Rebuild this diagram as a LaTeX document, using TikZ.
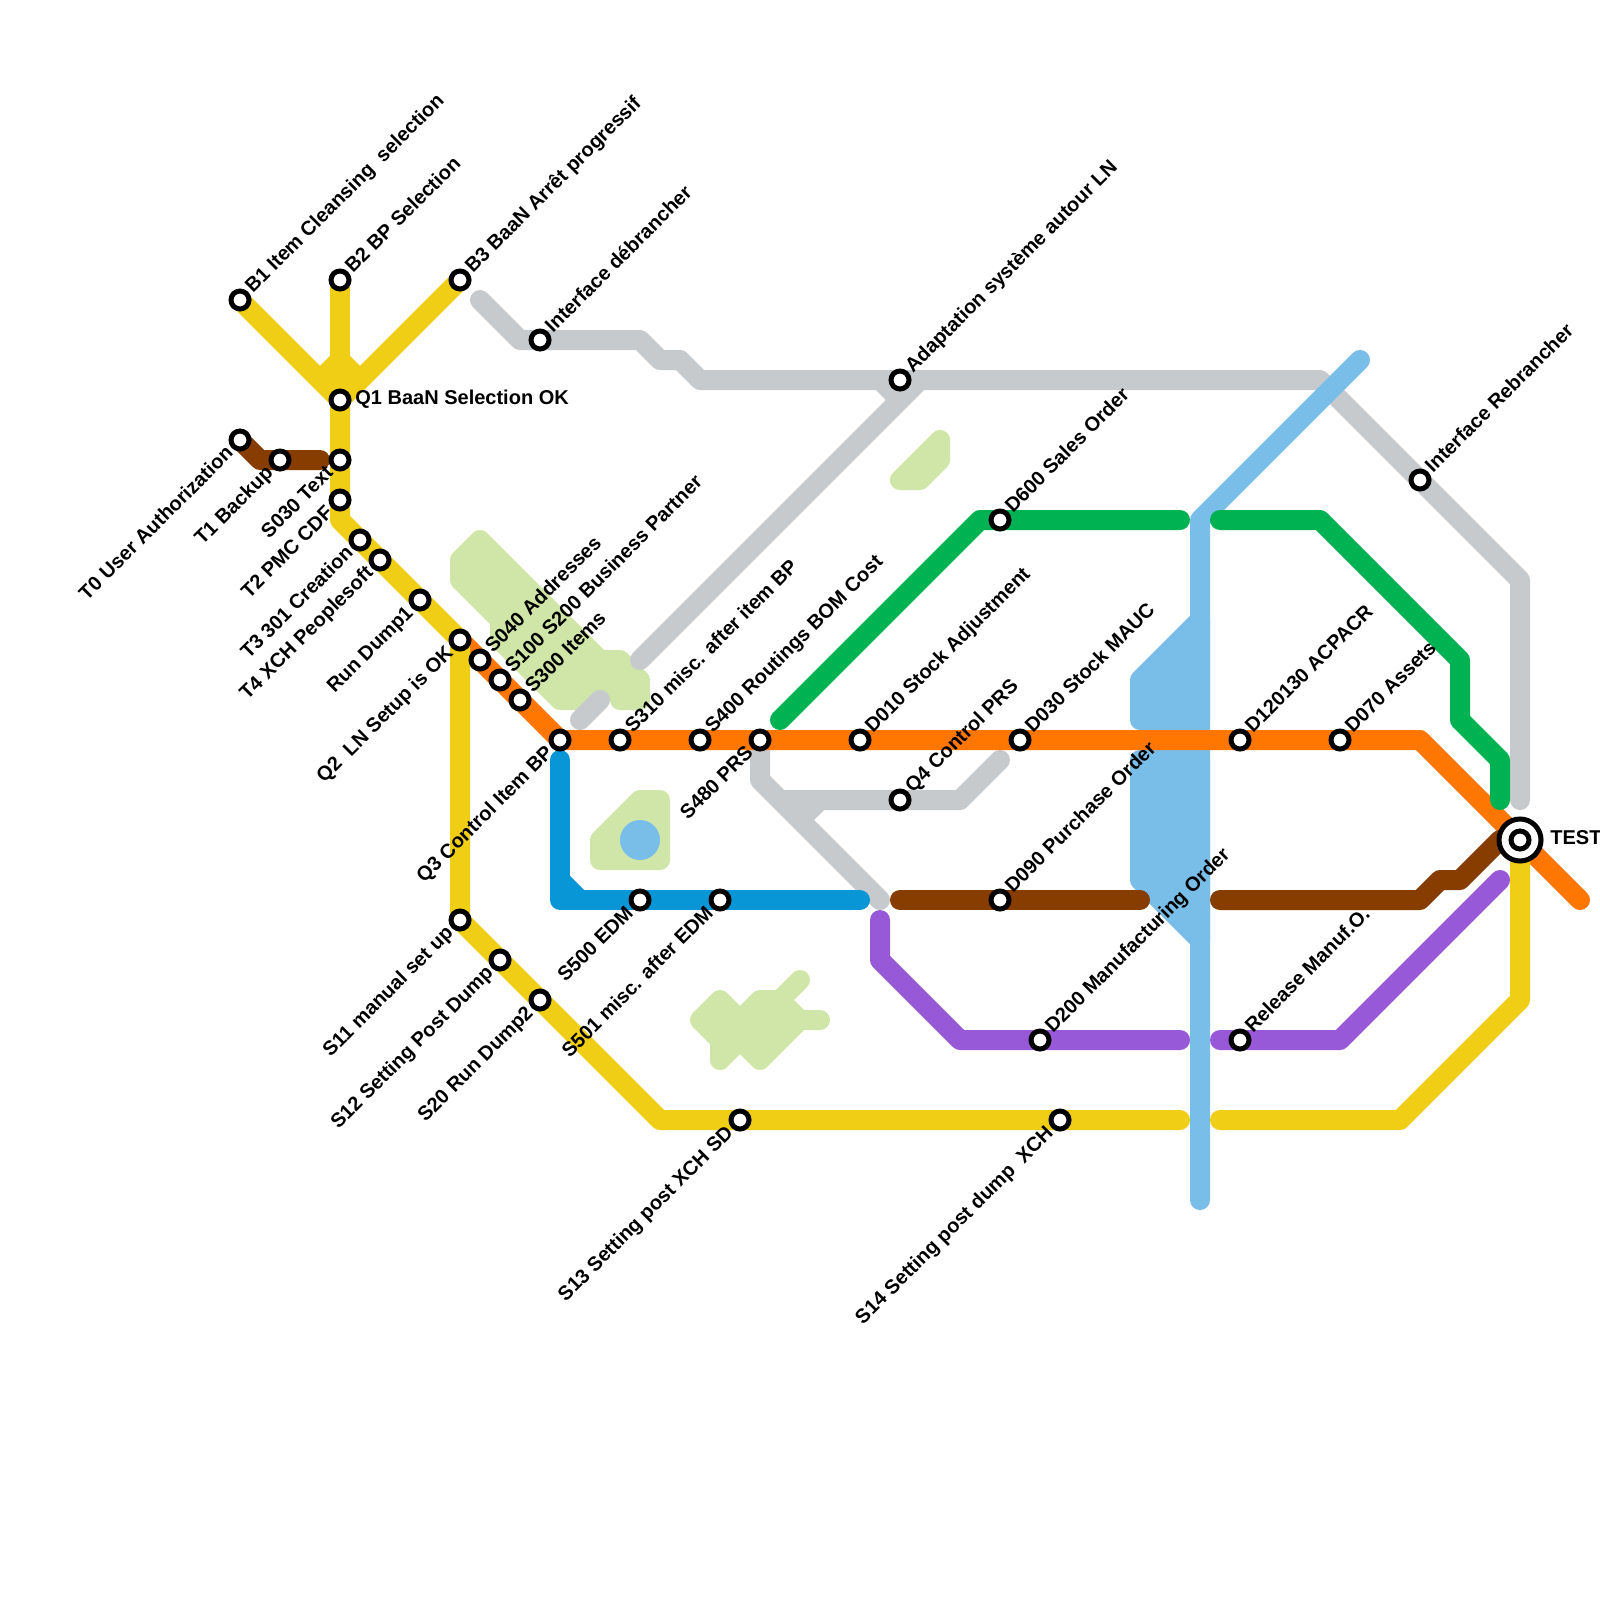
\documentclass[tikz,border=0pt]{standalone}
\usepackage{fontspec}
\setmainfont{Liberation Sans}
\usetikzlibrary{backgrounds}
\definecolor{lineyellow}{RGB}{240,206,21}
\definecolor{lineorange}{RGB}{255,119,0}
\definecolor{linegreen}{RGB}{0,178,81}
\definecolor{linegrey}{RGB}{199,202,204}
\definecolor{lineblue}{RGB}{8,150,215}
\definecolor{linesky}{RGB}{121,189,233}
\definecolor{linepurple}{RGB}{152,89,217}
\definecolor{linebrown}{RGB}{135,60,0}
\definecolor{parkgreen}{RGB}{208,229,168}

\begin{document}
\begin{tikzpicture}[x=0.5pt, y=-0.5pt,
  stn/.style={circle, draw=black, fill=white, line width=2.5pt, minimum size=9pt, inner sep=0pt},
  hubstn/.style={circle, draw=black, fill=white, line width=2.5pt, minimum size=21pt, inner sep=0pt},
  track/.style={line width=10pt, line cap=round, line join=round},
  park/.style={draw=parkgreen, fill=parkgreen, line width=10pt, line join=round, line cap=round},
  lbl/.style={font=\fontsize{10}{12}\selectfont\bfseries, inner sep=0pt},
  lblup/.style={lbl, rotate=45, anchor=mid west, xshift=6.75pt, yshift=0.25pt},
  lbldown/.style={lbl, rotate=45, anchor=mid east, xshift=-6.9pt, yshift=-0.3pt}]
  \useasboundingbox (0,0) rectangle (1600,1600);

  % stations
  \node[stn] (b1) at (240,300) {};
  \node[stn] (b2) at (340,280) {};
  \node[stn] (b3) at (460,280) {};
  \node[stn] (q1) at (340,400) {};
  \node[stn] (t0) at (240,440) {};
  \node[stn] (t1) at (280,460) {};
  \node[stn] (s030) at (340,460) {};
  \node[stn] (t2) at (340,500) {};
  \node[stn] (t3) at (360,540) {};
  \node[stn] (t4) at (380,560) {};
  \node[stn] (dump1) at (420,600) {};
  \node[stn] (q2) at (460,640) {};
  \node[stn] (s040) at (480,660) {};
  \node[stn] (s100) at (500,680) {};
  \node[stn] (s300) at (520,700) {};
  \node[stn] (q3) at (560,740) {};
  \node[stn] (s310) at (620,740) {};
  \node[stn] (s400) at (700,740) {};
  \node[stn] (s480) at (760,740) {};
  \node[stn] (d010) at (860,740) {};
  \node[stn] (d030) at (1020,740) {};
  \node[stn] (d120) at (1240,740) {};
  \node[stn] (d070) at (1340,740) {};
  \node[stn] (ifdeb) at (540,340) {};
  \node[stn] (adapt) at (900,380) {};
  \node[stn] (ifreb) at (1420,480) {};
  \node[stn] (d600) at (1000,520) {};
  \node[stn] (q4) at (900,800) {};
  \node[stn] (s500) at (640,900) {};
  \node[stn] (s501) at (720,900) {};
  \node[stn] (d090) at (1000,900) {};
  \node[stn] (s11) at (460,920) {};
  \node[stn] (s12) at (500,960) {};
  \node[stn] (s20) at (540,1000) {};
  \node[stn] (d200) at (1040,1040) {};
  \node[stn] (relmo) at (1240,1040) {};
  \node[stn] (s13) at (740,1120) {};
  \node[stn] (s14) at (1060,1120) {};
  \node[hubstn] (test) at (1520,840) {};
  \node[stn] (testin) at (1520,840) {};

  % labels
  \node[lblup] (b1l) at (b1) {B1 Item Cleansing~ selection};
  \node[lblup] (b2l) at (b2) {B2 BP Selection};
  \node[lblup] (b3l) at (b3) {B3 BaaN Arrêt progressif};
  \node[lblup] (ifdebl) at (ifdeb) {Interface débrancher};
  \node[lblup] (adaptl) at (adapt) {Adaptation système autour LN};
  \node[lblup] (d600l) at (d600) {D600 Sales Order};
  \node[lblup] (ifrebl) at (ifreb) {Interface Rebrancher};
  \node[lblup] (s040l) at (s040) {S040 Addresses};
  \node[lblup] (s100l) at (s100) {S100 S200 Business Partner};
  \node[lblup] (s300l) at (s300) {S300 Items};
  \node[lblup] (s310l) at (s310) {S310 misc. after item BP};
  \node[lblup] (s400l) at (s400) {S400 Routings BOM Cost};
  \node[lblup] (d010l) at (d010) {D010 Stock Adjustment};
  \node[lblup] (d030l) at (d030) {D030 Stock MAUC};
  \node[lblup] (d120l) at (d120) {D120130 ACPACR};
  \node[lblup] (d070l) at (d070) {D070 Assets};
  \node[lblup] (q4l) at (q4) {Q4 Control PRS};
  \node[lblup] (d090l) at (d090) {D090 Purchase Order};
  \node[lblup] (d200l) at (d200) {D200 Manufacturing Order};
  \node[lblup] (relmol) at (relmo) {Release Manuf.O.};
  \node[lbldown] (t0l) at (t0) {T0 User Authorization};
  \node[lbldown] (t1l) at (t1) {T1 Backup};
  \node[lbldown] (s030l) at (s030) {S030 Text};
  \node[lbldown] (t2l) at (t2) {T2 PMC CDF};
  \node[lbldown] (t3l) at (t3) {T3 301 Creation};
  \node[lbldown] (t4l) at (t4) {T4 XCH Peoplesoft};
  \node[lbldown] (dump1l) at (dump1) {Run Dump1};
  \node[lbldown] (q2l) at (q2) {Q2~ LN Setup is OK};
  \node[lbldown] (q3l) at (q3) {Q3 Control Item BP};
  \node[lbldown] (s480l) at (s480) {S480 PRS};
  \node[lbldown] (s500l) at (s500) {S500 EDM};
  \node[lbldown] (s501l) at (s501) {S501 misc. after EDM};
  \node[lbldown] (s11l) at (s11) {S11 manual set up};
  \node[lbldown] (s12l) at (s12) {S12 Setting Post Dump};
  \node[lbldown] (s20l) at (s20) {S20 Run Dump2};
  \node[lbldown] (s13l) at (s13) {S13 Setting post XCH SD};
  \node[lbldown] (s14l) at (s14) {S14 Setting post dump~ XCH};
  \node[lbl, anchor=mid west] (q1l) at (355,399) {Q1 BaaN Selection OK};
  \node[lbl, anchor=mid west] (testl) at (1550,839) {TEST};

  % free ends of the lines
  \coordinate (greyW) at (480,300);
  \coordinate (greyE) at (1520,800);
  \coordinate (greyD) at (640,660);
  \coordinate (greyU) at (920,380);
  \coordinate (greyV) at (880,380);
  \coordinate (greyX) at (900,400);
  \coordinate (stubA) at (580,720);
  \coordinate (stubB) at (600,700);
  \coordinate (greyS) at (880,900);
  \coordinate (greyT) at (1000,760);
  \coordinate (greyF) at (780,800);
  \coordinate (greyP) at (800,820);
  \coordinate (greyQ) at (820,800);
  \coordinate (skyN) at (1360,360);
  \coordinate (skyS) at (1200,1200);
  \coordinate (orangeE) at (1580,900);
  \coordinate (greenA) at (780,720);
  \coordinate (greenB) at (1180,520);
  \coordinate (greenC) at (1220,520);
  \coordinate (greenD) at (1500,800);
  \coordinate (yfork) at (340,360);
  \coordinate (yforkL) at (320,380);
  \coordinate (yforkR) at (360,380);
  \coordinate (yellowA) at (1180,1120);
  \coordinate (yellowB) at (1220,1120);
  \coordinate (brownA) at (320,460);
  \coordinate (brownB) at (900,900);
  \coordinate (brownC) at (1140,900);
  \coordinate (brownD) at (1220,900);
  \coordinate (blueN) at (560,760);
  \coordinate (blueE) at (860,900);
  \coordinate (blueA) at (560,880);
  \coordinate (blueB) at (580,900);
  \coordinate (purpleA) at (880,920);
  \coordinate (purpleB) at (1180,1040);
  \coordinate (purpleC) at (1220,1040);
  \coordinate (purpleD) at (1500,880);

  \begin{scope}[on background layer]
    \draw[park] (480,540) -- (460,560) -- (460,580) -- (500,620) -- (500,640) -- (560,700) -- (590,700) -- (620,680) -- (620,700) -- (640,700) -- (640,680) -- (620,660) -- (600,660) -- cycle;
    \draw[park] (600,860) -- (660,860) -- (660,800) -- (640,800) -- (600,840) -- cycle;
    \draw[park] (900,480) -- (920,480) -- (940,460) -- (940,440) -- cycle;
    \draw[park] (700,1020) -- (720,1000) -- (740,1020) -- (760,1000) -- (780,1000) -- (800,980) -- (780,1000) -- (800,1020) -- (820,1020) -- (800,1020) -- (760,1060) -- (740,1040) -- (720,1060) -- (720,1040) -- cycle;
    \node[circle, fill=linesky, minimum size=20pt, inner sep=0pt] (lake) at (640,840) {};

    \draw[track, linegrey] (greyW) -- (520,340) -- (ifdeb.center) -- (640,340) -- (660,360) -- (680,360) -- (700,380) -- (adapt.center) -- (1320,380) -- (1520,580) -- (greyE);
    \draw[track, linegrey, line cap=butt] (greyV) -- (greyX);
    \draw[track, linegrey] (greyU) -- (greyD);
    \draw[track, linegrey] (stubA) -- (stubB);
    \draw[track, linegrey] (s480.center) -- (760,780) -- (greyS);
    \draw[track, linegrey] (greyF) -- (q4.center) -- (960,800) -- (greyT);
    \draw[track, linegrey, line cap=butt] (greyP) -- (greyQ);

    \draw[track, linesky] (skyN) -- (1200,520) -- (skyS);
    \draw[track, linesky, fill=linesky] (1140,680) -- (1200,620) -- (1200,720) -- (1140,720) -- cycle;
    \draw[track, linesky, fill=linesky] (1200,760) -- (1140,760) -- (1140,880) -- (1200,940) -- cycle;

    \draw[track, lineorange] (q2.center) -- (s040.center) -- (s100.center) -- (s300.center) -- (q3.center) -- (s310.center) -- (s400.center) -- (s480.center) -- (d010.center) -- (d030.center) -- (d120.center) -- (d070.center) -- (1420,740) -- (orangeE);

    \draw[track, linegreen] (greenA) -- (980,520) -- (d600.center) -- (greenB);
    \draw[track, linegreen] (greenC) -- (1320,520) -- (1460,660) -- (1460,720) -- (1500,760) -- (greenD);

    \draw[track, lineyellow] (b1.center) -- (q1.center);
    \draw[track, lineyellow] (b2.center) -- (q1.center);
    \draw[track, lineyellow] (b3.center) -- (q1.center);
    \draw[track, lineyellow, line cap=butt] (yforkL) -- (yfork) -- (yforkR);
    \draw[track, lineyellow] (q1.center) -- (s030.center) -- (t2.center) -- (340,520) -- (t3.center) -- (t4.center) -- (dump1.center) -- (q2.center) -- (s11.center) -- (s12.center) -- (s20.center) -- (660,1120) -- (s13.center) -- (s14.center) -- (yellowA);
    \draw[track, lineyellow] (yellowB) -- (1400,1120) -- (1520,1000) -- (test.center);

    \draw[track, linebrown] (t0.center) -- (260,460) -- (t1.center) -- (brownA);
    \draw[track, linebrown] (brownB) -- (d090.center) -- (brownC);
    \draw[track, linebrown] (brownD) -- (1420,900) -- (1440,880) -- (1460,880) -- (1500,840) -- (test.center);

    \draw[track, lineblue] (blueN) -- (560,900) -- (s500.center) -- (s501.center) -- (blueE);
    \draw[track, lineblue, line cap=butt] (blueA) -- (blueB);

    \draw[track, linepurple] (purpleA) -- (880,960) -- (960,1040) -- (d200.center) -- (purpleB);
    \draw[track, linepurple] (purpleC) -- (relmo.center) -- (1340,1040) -- (purpleD);
  \end{scope}
\end{tikzpicture}
\end{document}
